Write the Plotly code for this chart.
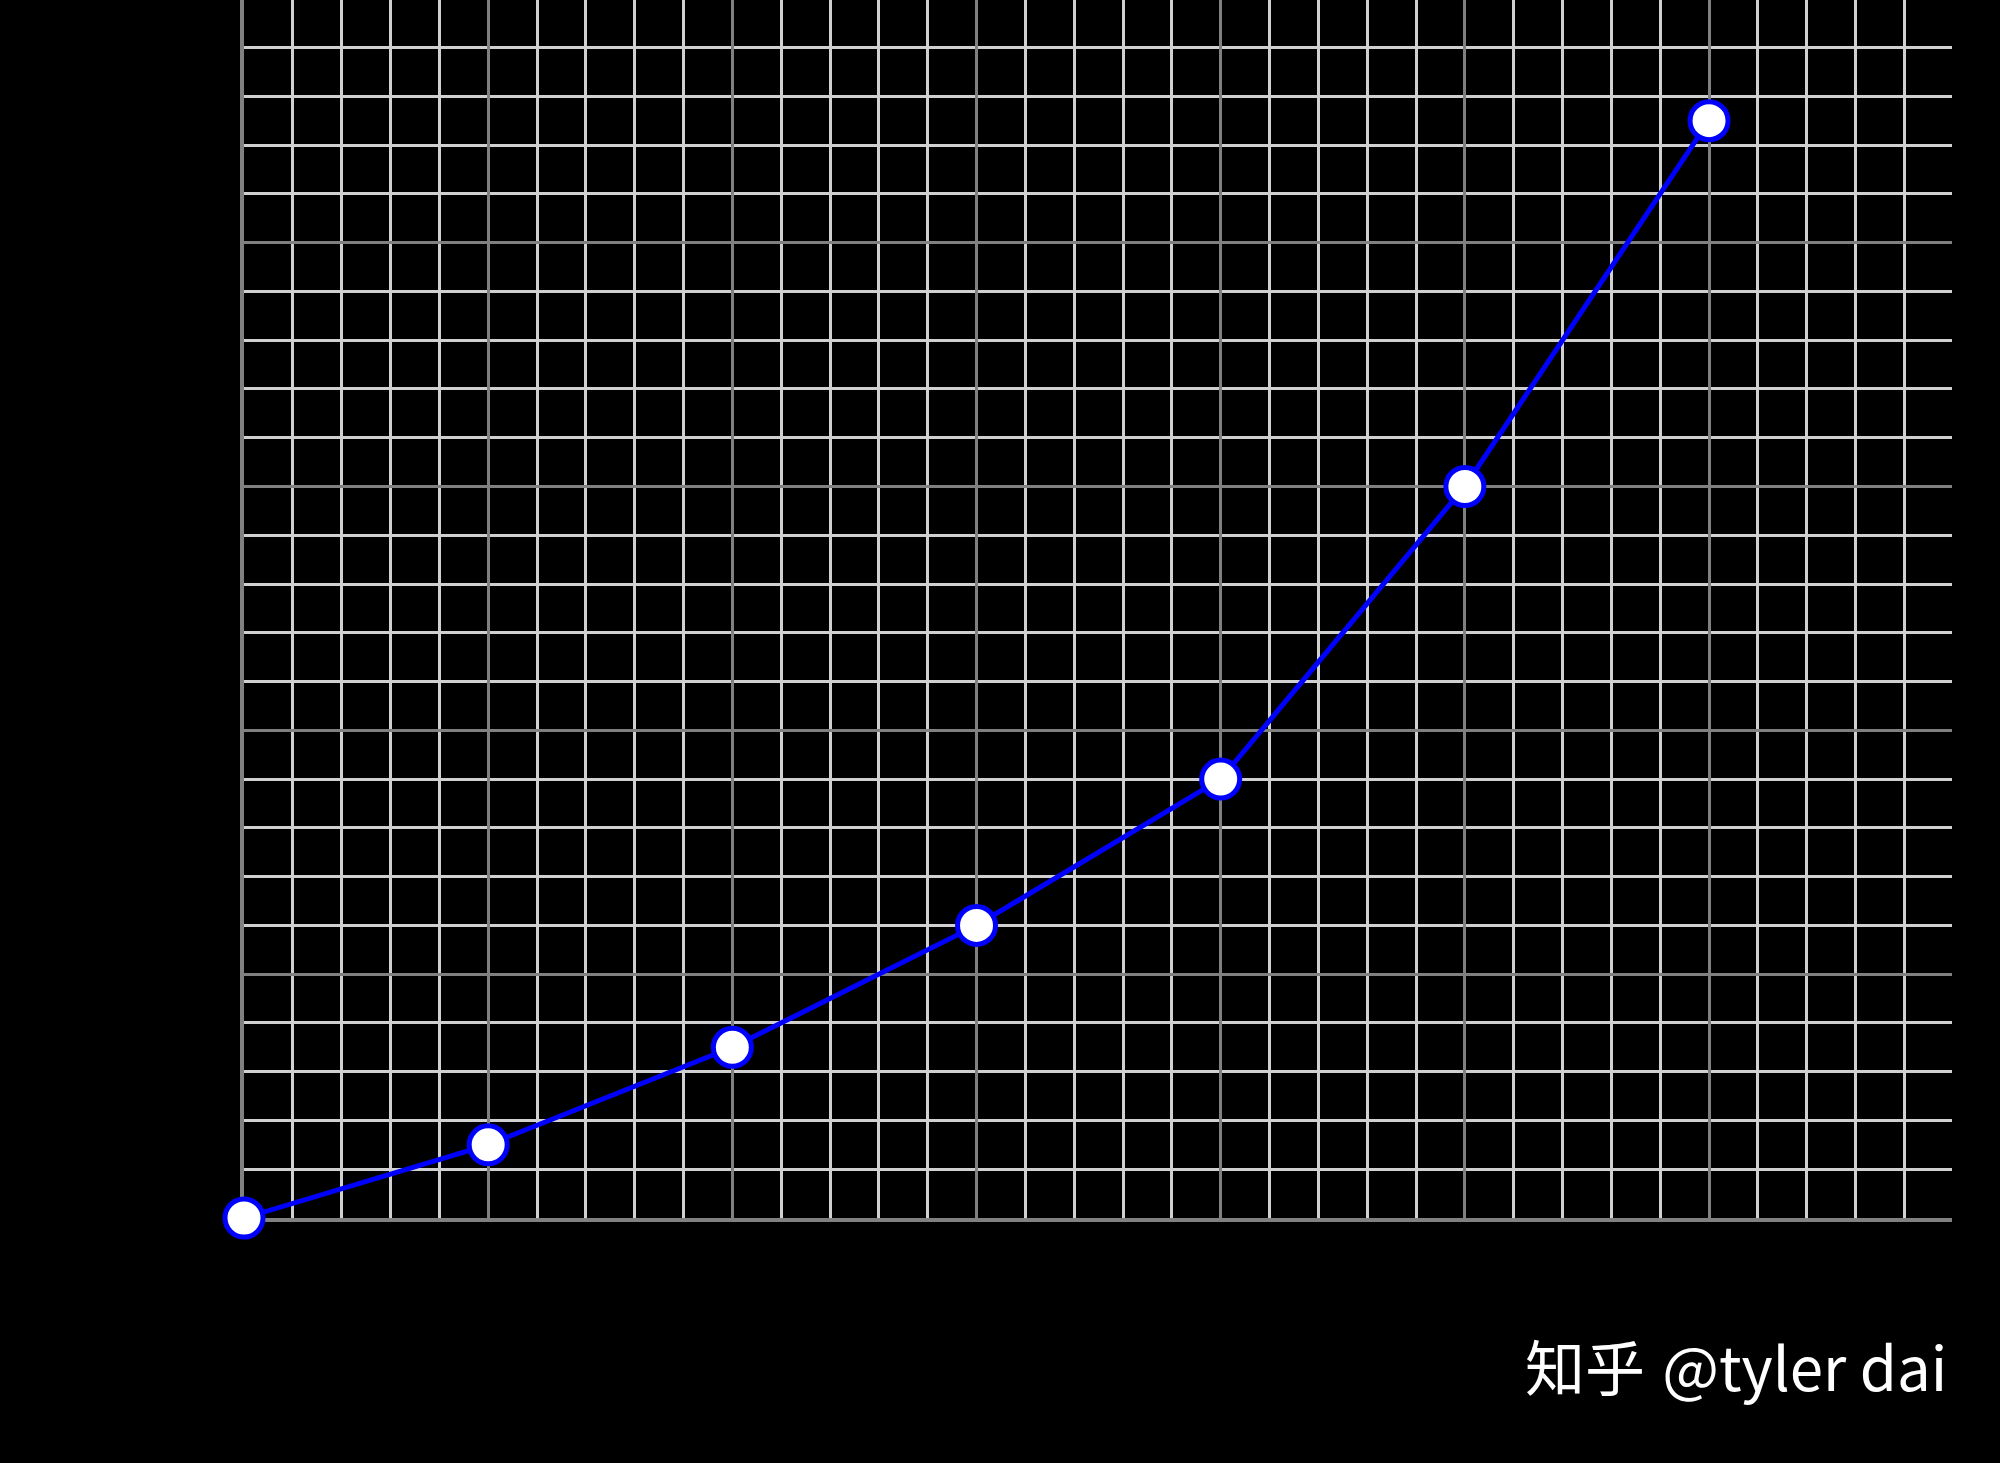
import plotly.graph_objects as go

# data (grid: 5 small cells per unit)
x_vals = [0, 1, 2, 3, 4, 5, 6]
y_vals = [0, 0.3, 0.7, 1.2, 1.8, 3.0, 4.5]

watermark = '知乎 \u200a@tyler dai'

light_grid = '#d0d0d0'
dark_grid = '#808080'
blue = '#0000ff'

fig = go.Figure()
fig.add_trace(go.Scatter(
    x=x_vals, y=y_vals,
    mode='lines+markers',
    line=dict(color=blue, width=5),
    marker=dict(size=38, color='white', line=dict(color=blue, width=5)),
    cliponaxis=False,
    showlegend=False,
))

axis_common = dict(
    showgrid=True, gridcolor=dark_grid, gridwidth=3,
    zeroline=False, showticklabels=False, ticks='',
    showline=True, linecolor=dark_grid, linewidth=3.5,
    minor=dict(dtick=0.2, showgrid=True, gridcolor=light_grid, gridwidth=3, ticks=''),
    dtick=1, tick0=0, fixedrange=True, layer='below traces',
)

fig.update_xaxes(range=[0, 6.995], **axis_common)
fig.update_yaxes(range=[0, 4.995], **axis_common)

fig.add_annotation(
    text=watermark, xref='paper', yref='paper',
    x=0.998, y=-0.12, xanchor='right', yanchor='middle',
    showarrow=False,
    font=dict(family='Noto Sans CJK SC', size=60, color='white'),
)

fig.update_layout(
    width=2000, height=1463,
    margin=dict(l=244, r=48, t=0, b=245),
    paper_bgcolor='black', plot_bgcolor='black',
)

# drop the page's default body margin so the figure sits at the top-left corner
fig.write_html('out.html', config={'displayModeBar': False},
               post_script="document.body.style.margin='0';")
